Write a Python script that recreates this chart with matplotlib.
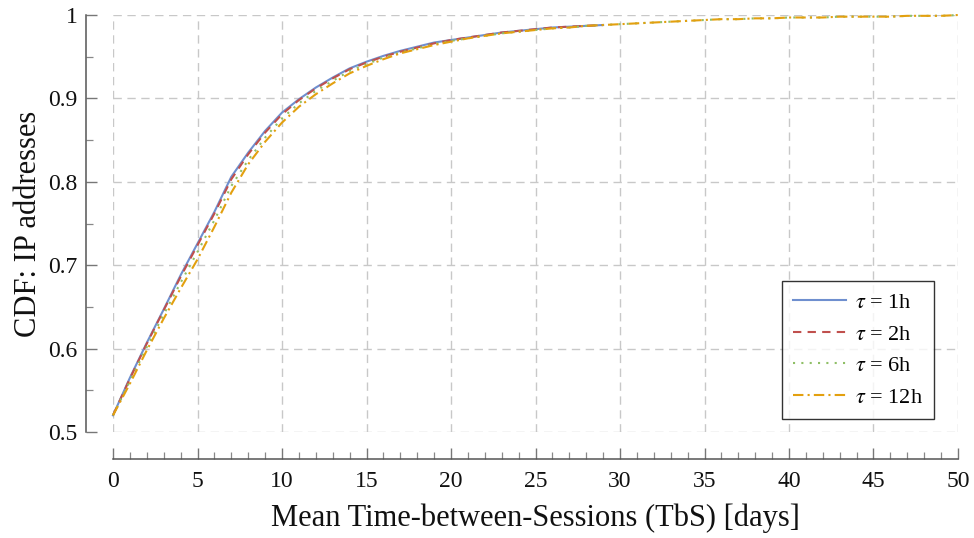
import matplotlib
matplotlib.use("Agg")
import matplotlib.pyplot as plt
from matplotlib.ticker import MultipleLocator, FixedLocator, FixedFormatter

plt.rcParams['font.family'] = ['Liberation Serif', 'DejaVu Serif']
plt.rcParams['mathtext.fontset'] = 'stix'

# ---- data ----
days_short = list(range(0, 30))
days_long = list(range(0, 51))

cdf_1h = [0.520, 0.565, 0.607, 0.647, 0.688, 0.726, 0.764, 0.806, 0.835, 0.861,
          0.883, 0.899, 0.913, 0.925, 0.936, 0.944, 0.951, 0.957, 0.962, 0.967,
          0.970, 0.973, 0.976, 0.979, 0.981, 0.983, 0.985, 0.986, 0.987, 0.988]
cdf_2h = [0.520, 0.564, 0.606, 0.646, 0.686, 0.724, 0.762, 0.803, 0.833, 0.859,
          0.881, 0.898, 0.912, 0.924, 0.935, 0.943, 0.950, 0.956, 0.961, 0.966,
          0.970, 0.973, 0.976, 0.979, 0.981, 0.983, 0.985, 0.986, 0.987, 0.988]
cdf_6h = [0.520, 0.561, 0.602, 0.641, 0.679, 0.716, 0.754, 0.795, 0.826, 0.853,
          0.876, 0.894, 0.909, 0.921, 0.933, 0.941, 0.949, 0.955, 0.960, 0.965,
          0.969, 0.972, 0.975, 0.978, 0.980, 0.982, 0.984, 0.985, 0.987, 0.988,
          0.989, 0.990, 0.991, 0.992, 0.993, 0.994, 0.995, 0.995, 0.996, 0.996,
          0.997, 0.997, 0.997, 0.998, 0.998, 0.998, 0.998, 0.999, 0.999, 0.999, 1.000]
cdf_12h = [0.520, 0.558, 0.598, 0.636, 0.672, 0.707, 0.746, 0.787, 0.821, 0.848,
           0.871, 0.890, 0.905, 0.918, 0.930, 0.939, 0.947, 0.954, 0.959, 0.964,
           0.968, 0.972, 0.975, 0.978, 0.980, 0.982, 0.984, 0.985, 0.987, 0.988,
           0.989, 0.990, 0.991, 0.992, 0.993, 0.994, 0.995, 0.995, 0.996, 0.996,
           0.997, 0.997, 0.997, 0.998, 0.998, 0.998, 0.998, 0.999, 0.999, 0.999, 1.000]

series_labels = [r'$\tau$ = 1h', r'$\tau$ = 2h', r'$\tau$ = 6h', r'$\tau$ = 12h']
x_ticks = [0, 5, 10, 15, 20, 25, 30, 35, 40, 45, 50]
y_ticks = [0.5, 0.6, 0.7, 0.8, 0.9, 1.0]
y_ticklabels = ['0.5', '0.6', '0.7', '0.8', '0.9', '1']

# ---- figure ----
fig = plt.figure(figsize=(9.74, 5.38), dpi=100)
ax = fig.add_axes([113/974, (538-432)/538, (958-113)/974, (432-15)/538])

colors = ['#6F8FCF', '#C0504D', '#8FBF66', '#E3A00F']
styles = ['-', (0, (4, 3)), (0, (1, 3)), (0, (5, 2, 1, 2))]
xs = [days_short, days_short, days_long, days_long]
ys = [cdf_1h, cdf_2h, cdf_6h, cdf_12h]
for x, y, c, ls, lab in zip(xs, ys, colors, styles, series_labels):
    ax.plot(x, y, color=c, linestyle=ls, linewidth=1.5, label=lab, clip_on=False, zorder=3)

ax.set_xlim(0, 50)
ax.set_ylim(0.5, 1.0)

ax.xaxis.set_major_locator(FixedLocator(x_ticks))
ax.xaxis.set_minor_locator(MultipleLocator(1))
ax.yaxis.set_major_locator(FixedLocator(y_ticks))
ax.yaxis.set_major_formatter(FixedFormatter(y_ticklabels))
ax.yaxis.set_minor_locator(MultipleLocator(0.05))

ax.grid(True, which='major', color='#c8c8c8', linestyle=(0, (6, 4)), linewidth=1.0, zorder=0)
ax.set_axisbelow(True)

for s in ['top', 'right']:
    ax.spines[s].set_visible(False)
for s in ['left', 'bottom']:
    ax.spines[s].set_position(('outward', 19.4))
    ax.spines[s].set_color('#555555')
    ax.spines[s].set_linewidth(1.1)

ax.tick_params(axis='both', which='major', direction='in', length=8, width=1.0,
               color='#777777', labelsize=17, labelcolor='#111111', pad=6)
ax.tick_params(axis='x', which='major', pad=9)
ax.tick_params(axis='both', which='minor', direction='in', length=5, width=0.9,
               color='#888888')

ax.set_xlabel('Mean Time-between-Sessions (TbS) [days]', fontsize=22, labelpad=8, color='#111111')
ax.set_ylabel('CDF: IP addresses', fontsize=22, labelpad=4, color='#111111')

leg = ax.legend(loc='lower right', bbox_to_anchor=(0.9716, 0.0312), borderaxespad=0,
                fontsize=16, frameon=True, fancybox=False, edgecolor='black',
                handlelength=2.4, handletextpad=0.4, labelspacing=0.5, borderpad=0.5)
leg.get_frame().set_linewidth(1.0)

fig.savefig('out.png', dpi=100)
